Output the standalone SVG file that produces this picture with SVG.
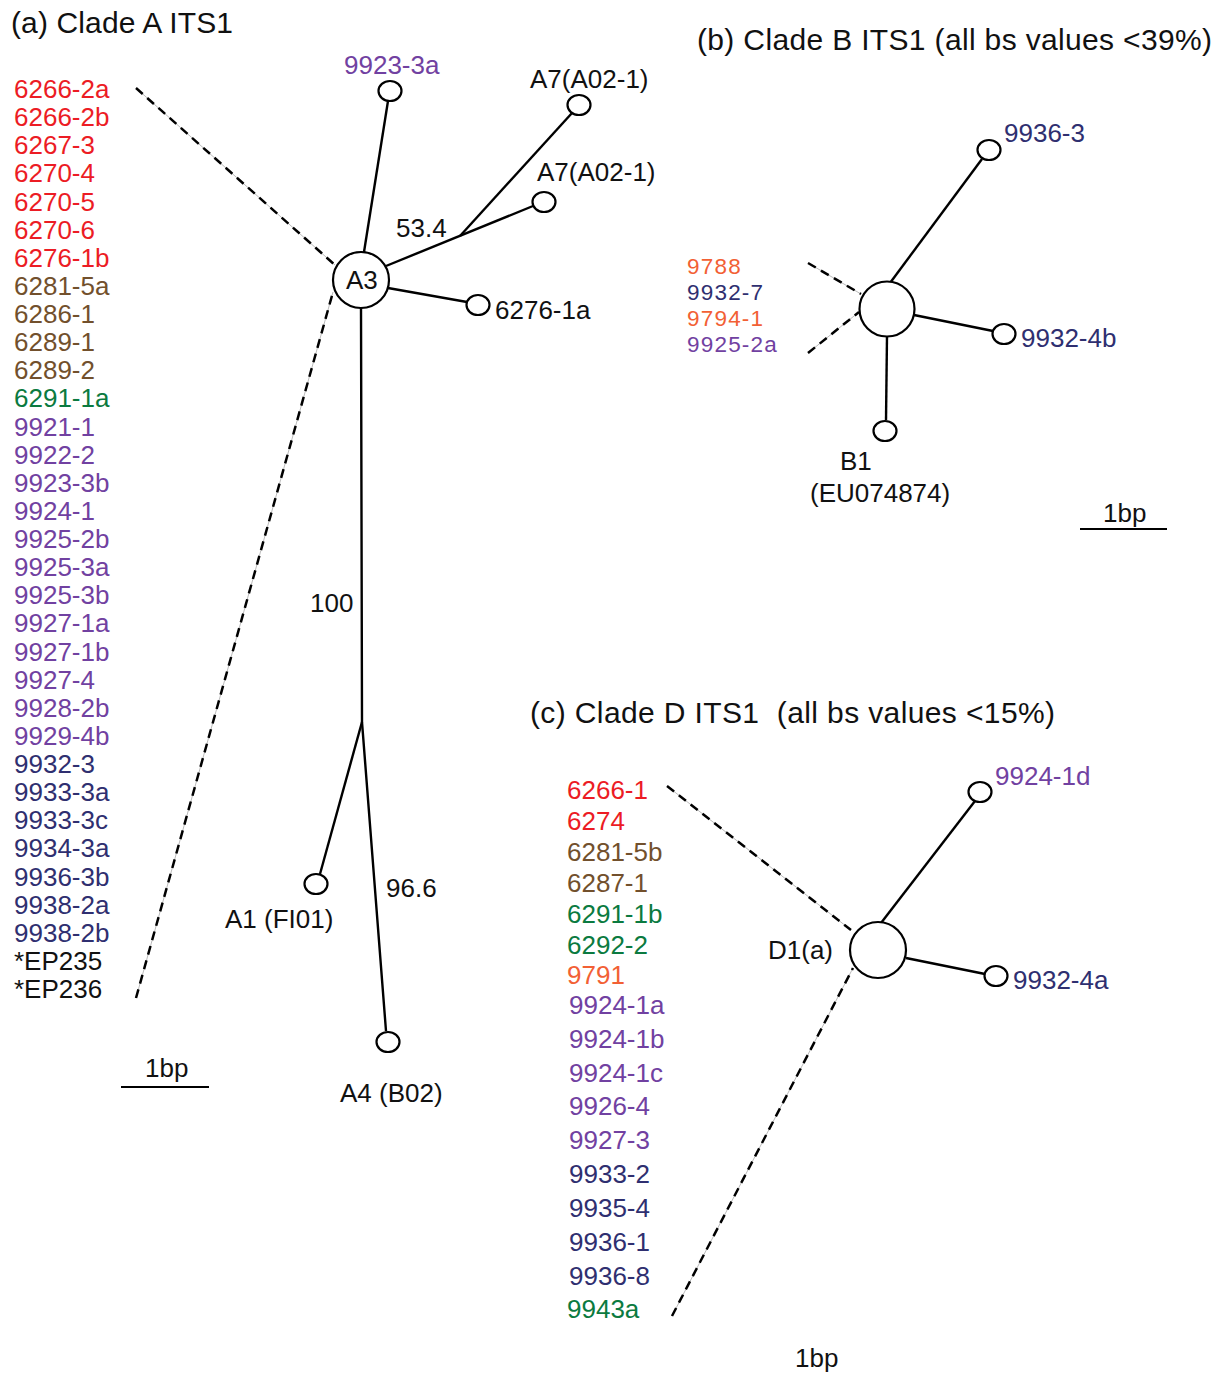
<svg xmlns="http://www.w3.org/2000/svg" width="1224" height="1373" viewBox="0 0 1224 1373">
  <style>
    text { font-family: "Liberation Sans", Arial, sans-serif; font-size: 26px; fill: #111; }
    .title { font-size: 30px; }
    .tight { font-size: 22.5px; letter-spacing: 1.2px; }
    .red { fill: #ec1c24; }
    .brown { fill: #72502c; }
    .green { fill: #0b7a40; }
    .purple { fill: #7141a1; }
    .navy { fill: #2f2f70; }
    .orange { fill: #f26034; }
    .edge { stroke: #000; stroke-width: 2.4; fill: none; }
    .dash { stroke: #000; stroke-width: 2.5; stroke-dasharray: 9 6; fill: none; }
    .dashbase { stroke: #bbb; stroke-width: 1; fill: none; }
    .node { fill: #fff; stroke: #000; stroke-width: 2.2; }
    .bar { stroke: #000; stroke-width: 2.2; }
  </style>

  <rect width="1224" height="1373" fill="#fff"/>

  <!-- panel titles -->
  <text class="title" x="11" y="33" textLength="222">(a) Clade A ITS1</text>
  <text class="title" x="697" y="50" textLength="515">(b) Clade B ITS1 (all bs values &lt;39%)</text>
  <text class="title" x="530" y="723" textLength="525" xml:space="preserve">(c) Clade D ITS1  (all bs values &lt;15%)</text>

  <!-- connectors -->
  <g id="connectors">
    <!-- clade A -->
    <line class="dashbase" x1="136" y1="88" x2="335" y2="265"/>
    <line class="dash" x1="136" y1="88" x2="335" y2="265"/>
    <line class="dashbase" x1="136" y1="998" x2="333" y2="292"/>
    <line class="dash" x1="136" y1="998" x2="333" y2="292"/>
    <line class="edge" x1="364" y1="252" x2="388" y2="101"/>
    <line class="edge" x1="386" y1="266" x2="533" y2="206"/>
    <line class="edge" x1="460" y1="236" x2="572" y2="113"/>
    <line class="edge" x1="388" y1="288" x2="467" y2="302"/>
    <polyline class="edge" points="361,308 362,722 386,1031"/>
    <line class="edge" x1="362" y1="722" x2="320" y2="874"/>
    <!-- clade B -->
    <line class="dashbase" x1="808" y1="263" x2="861" y2="294"/>
    <line class="dash" x1="808" y1="263" x2="861" y2="294"/>
    <line class="dashbase" x1="808" y1="353" x2="859" y2="312"/>
    <line class="dash" x1="808" y1="353" x2="859" y2="312"/>
    <line class="edge" x1="890" y1="283" x2="982" y2="159"/>
    <line class="edge" x1="914" y1="315" x2="993" y2="331"/>
    <line class="edge" x1="887" y1="336" x2="886" y2="420"/>
    <!-- clade D -->
    <line class="dashbase" x1="667" y1="786" x2="851" y2="930"/>
    <line class="dash" x1="667" y1="786" x2="851" y2="930"/>
    <line class="dashbase" x1="672" y1="1316" x2="853" y2="968"/>
    <line class="dash" x1="672" y1="1316" x2="853" y2="968"/>
    <line class="edge" x1="881" y1="923" x2="975" y2="801"/>
    <line class="edge" x1="906" y1="958" x2="985" y2="974"/>
  </g>

  <!-- branch support values -->
  <text x="396" y="237">53.4</text>
  <text x="310" y="612">100</text>
  <text x="386" y="897">96.6</text>

  <!-- clade A nodes -->
  <g id="node-A3">
    <circle class="node" cx="361" cy="280" r="28"/>
    <text x="346" y="289">A3</text>
  </g>
  <g id="node-9923-3a">
    <ellipse class="node" cx="390" cy="91" rx="11.5" ry="10"/>
    <text class="purple" x="344" y="74">9923-3a</text>
  </g>
  <g id="node-A7-upper">
    <ellipse class="node" cx="579" cy="105" rx="11.5" ry="10"/>
    <text x="530" y="88">A7(A02-1)</text>
  </g>
  <g id="node-A7-lower">
    <ellipse class="node" cx="544" cy="202" rx="11.5" ry="10"/>
    <text x="537" y="181">A7(A02-1)</text>
  </g>
  <g id="node-6276-1a">
    <ellipse class="node" cx="478" cy="305" rx="11.5" ry="10"/>
    <text x="495" y="319">6276-1a</text>
  </g>
  <g id="node-A1">
    <ellipse class="node" cx="316" cy="884" rx="11.5" ry="10"/>
    <text x="225" y="928">A1 (FI01)</text>
  </g>
  <g id="node-A4">
    <ellipse class="node" cx="388" cy="1042" rx="11.5" ry="10"/>
    <text x="340" y="1102">A4 (B02)</text>
  </g>

  <!-- clade A collapsed members -->
  <g id="list-A">
    <text class="red" x="14" y="98">6266-2a</text>
    <text class="red" x="14" y="126">6266-2b</text>
    <text class="red" x="14" y="154">6267-3</text>
    <text class="red" x="14" y="182">6270-4</text>
    <text class="red" x="14" y="211">6270-5</text>
    <text class="red" x="14" y="239">6270-6</text>
    <text class="red" x="14" y="267">6276-1b</text>
    <text class="brown" x="14" y="295">6281-5a</text>
    <text class="brown" x="14" y="323">6286-1</text>
    <text class="brown" x="14" y="351">6289-1</text>
    <text class="brown" x="14" y="379">6289-2</text>
    <text class="green" x="14" y="407">6291-1a</text>
    <text class="purple" x="14" y="436">9921-1</text>
    <text class="purple" x="14" y="464">9922-2</text>
    <text class="purple" x="14" y="492">9923-3b</text>
    <text class="purple" x="14" y="520">9924-1</text>
    <text class="purple" x="14" y="548">9925-2b</text>
    <text class="purple" x="14" y="576">9925-3a</text>
    <text class="purple" x="14" y="604">9925-3b</text>
    <text class="purple" x="14" y="632">9927-1a</text>
    <text class="purple" x="14" y="661">9927-1b</text>
    <text class="purple" x="14" y="689">9927-4</text>
    <text class="purple" x="14" y="717">9928-2b</text>
    <text class="purple" x="14" y="745">9929-4b</text>
    <text class="navy" x="14" y="773">9932-3</text>
    <text class="navy" x="14" y="801">9933-3a</text>
    <text class="navy" x="14" y="829">9933-3c</text>
    <text class="navy" x="14" y="857">9934-3a</text>
    <text class="navy" x="14" y="886">9936-3b</text>
    <text class="navy" x="14" y="914">9938-2a</text>
    <text class="navy" x="14" y="942">9938-2b</text>
    <text x="14" y="970">*EP235</text>
    <text x="14" y="998">*EP236</text>
  </g>

  <!-- clade A scale -->
  <g id="scale-A">
    <text x="145" y="1077">1bp</text>
    <line class="bar" x1="121" y1="1087" x2="209" y2="1087"/>
  </g>

  <!-- clade B nodes -->
  <g id="node-B-centre">
    <circle class="node" cx="887" cy="309" r="27.5"/>
  </g>
  <g id="node-9936-3">
    <ellipse class="node" cx="989" cy="150" rx="11.5" ry="10"/>
    <text class="navy" x="1004" y="142">9936-3</text>
  </g>
  <g id="node-9932-4b">
    <ellipse class="node" cx="1004" cy="334" rx="11.5" ry="10"/>
    <text class="navy" x="1021" y="347">9932-4b</text>
  </g>
  <g id="node-B1">
    <ellipse class="node" cx="885" cy="431" rx="11.5" ry="10"/>
    <text x="840" y="470">B1</text>
    <text x="810" y="502">(EU074874)</text>
  </g>
  <g id="list-B">
    <text class="orange tight" x="687" y="274">9788</text>
    <text class="navy tight" x="687" y="300">9932-7</text>
    <text class="orange tight" x="687" y="326">9794-1</text>
    <text class="purple tight" x="687" y="352">9925-2a</text>
  </g>
  <g id="scale-B">
    <text x="1103" y="522">1bp</text>
    <line class="bar" x1="1080" y1="529" x2="1167" y2="529"/>
  </g>

  <!-- clade D nodes -->
  <g id="node-D1a">
    <circle class="node" cx="878" cy="950" r="28"/>
    <text x="768" y="959">D1(a)</text>
  </g>
  <g id="node-9924-1d">
    <ellipse class="node" cx="980" cy="792" rx="11.5" ry="10"/>
    <text class="purple" x="995" y="785">9924-1d</text>
  </g>
  <g id="node-9932-4a">
    <ellipse class="node" cx="996" cy="976" rx="11.5" ry="10"/>
    <text class="navy" x="1013" y="989">9932-4a</text>
  </g>
  <g id="list-D">
    <text class="red" x="567" y="799">6266-1</text>
    <text class="red" x="567" y="830">6274</text>
    <text class="brown" x="567" y="861">6281-5b</text>
    <text class="brown" x="567" y="892">6287-1</text>
    <text class="green" x="567" y="923">6291-1b</text>
    <text class="green" x="567" y="954">6292-2</text>
    <text class="orange" x="567" y="984">9791</text>
    <text class="purple" x="569" y="1014">9924-1a</text>
    <text class="purple" x="569" y="1048">9924-1b</text>
    <text class="purple" x="569" y="1082">9924-1c</text>
    <text class="purple" x="569" y="1115">9926-4</text>
    <text class="purple" x="569" y="1149">9927-3</text>
    <text class="navy" x="569" y="1183">9933-2</text>
    <text class="navy" x="569" y="1217">9935-4</text>
    <text class="navy" x="569" y="1251">9936-1</text>
    <text class="navy" x="569" y="1285">9936-8</text>
    <text class="green" x="567" y="1318">9943a</text>
  </g>
  <g id="scale-D">
    <text x="795" y="1367">1bp</text>
  </g>
</svg>
